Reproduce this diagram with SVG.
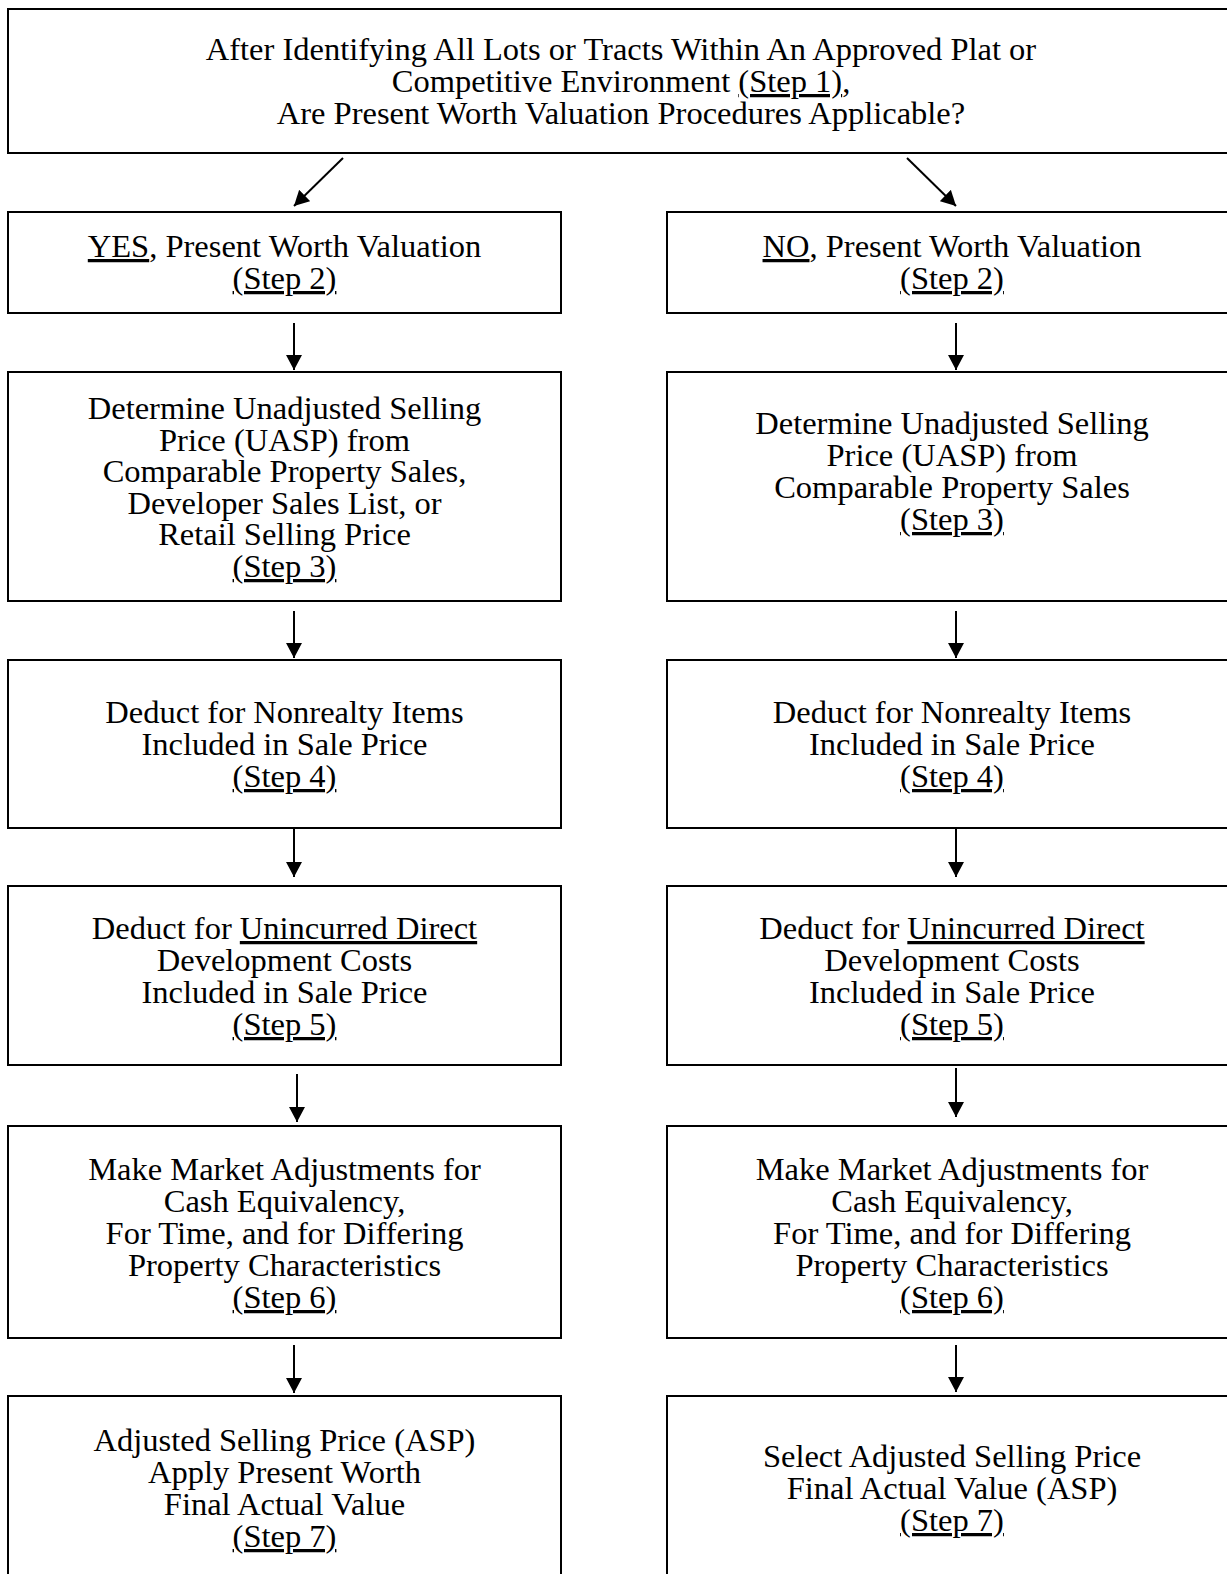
<svg xmlns="http://www.w3.org/2000/svg" width="1227" height="1574" viewBox="0 0 1227 1574">
<style>
.box{fill:#fff;stroke:#000;stroke-width:2}
.t{font-family:"Liberation Serif","Times New Roman",serif;font-size:32.5px;fill:#000;text-anchor:middle}
.u{text-decoration:underline;text-decoration-skip-ink:none}
.c{stroke:#000;stroke-width:2;fill:none;marker-end:url(#ah)}
</style>
<defs>
<marker id="ah" markerWidth="16" markerHeight="16" refX="15" refY="8" orient="auto" markerUnits="userSpaceOnUse">
<path d="M0,0 L15,8 L0,16 Z" fill="#000"/>
</marker>
</defs>
<rect width="1227" height="1574" fill="#fff"/>
<g id="n0">
<rect class="box" x="8" y="9" width="1230" height="144"/>
<text class="t" x="621" y="60">After Identifying All Lots or Tracts Within An Approved Plat or</text>
<text class="t" x="621" y="92">Competitive Environment <tspan class="u">(Step 1)</tspan>,</text>
<text class="t" x="621" y="124">Are Present Worth Valuation Procedures Applicable?</text>
</g>
<g id="yes2">
<rect class="box" x="8" y="212" width="553" height="101"/>
<text class="t" x="284.5" y="257"><tspan class="u">YES</tspan>, Present Worth Valuation</text>
<text class="t" x="284.5" y="289"><tspan class="u">(Step 2)</tspan></text>
</g>
<g id="no2">
<rect class="box" x="667" y="212" width="570" height="101"/>
<text class="t" x="952" y="257"><tspan class="u">NO</tspan>, Present Worth Valuation</text>
<text class="t" x="952" y="289"><tspan class="u">(Step 2)</tspan></text>
</g>
<g id="yes3">
<rect class="box" x="8" y="372" width="553" height="229"/>
<text class="t" x="284.5" y="419">Determine Unadjusted Selling</text>
<text class="t" x="284.5" y="451">Price (UASP) from</text>
<text class="t" x="284.5" y="482">Comparable Property Sales,</text>
<text class="t" x="284.5" y="514">Developer Sales List, or</text>
<text class="t" x="284.5" y="545">Retail Selling Price</text>
<text class="t" x="284.5" y="577"><tspan class="u">(Step 3)</tspan></text>
</g>
<g id="no3">
<rect class="box" x="667" y="372" width="570" height="229"/>
<text class="t" x="952" y="434">Determine Unadjusted Selling</text>
<text class="t" x="952" y="466">Price (UASP) from</text>
<text class="t" x="952" y="498">Comparable Property Sales</text>
<text class="t" x="952" y="530"><tspan class="u">(Step 3)</tspan></text>
</g>
<g id="yes4">
<rect class="box" x="8" y="660" width="553" height="168"/>
<text class="t" x="284.5" y="723">Deduct for Nonrealty Items</text>
<text class="t" x="284.5" y="755">Included in Sale Price</text>
<text class="t" x="284.5" y="787"><tspan class="u">(Step 4)</tspan></text>
</g>
<g id="no4">
<rect class="box" x="667" y="660" width="570" height="168"/>
<text class="t" x="952" y="723">Deduct for Nonrealty Items</text>
<text class="t" x="952" y="755">Included in Sale Price</text>
<text class="t" x="952" y="787"><tspan class="u">(Step 4)</tspan></text>
</g>
<g id="yes5">
<rect class="box" x="8" y="886" width="553" height="179"/>
<text class="t" x="284.5" y="939">Deduct for <tspan class="u">Unincurred Direct</tspan></text>
<text class="t" x="284.5" y="971">Development Costs</text>
<text class="t" x="284.5" y="1003">Included in Sale Price</text>
<text class="t" x="284.5" y="1035"><tspan class="u">(Step 5)</tspan></text>
</g>
<g id="no5">
<rect class="box" x="667" y="886" width="570" height="179"/>
<text class="t" x="952" y="939">Deduct for <tspan class="u">Unincurred Direct</tspan></text>
<text class="t" x="952" y="971">Development Costs</text>
<text class="t" x="952" y="1003">Included in Sale Price</text>
<text class="t" x="952" y="1035"><tspan class="u">(Step 5)</tspan></text>
</g>
<g id="yes6">
<rect class="box" x="8" y="1126" width="553" height="212"/>
<text class="t" x="284.5" y="1180">Make Market Adjustments for</text>
<text class="t" x="284.5" y="1212">Cash Equivalency,</text>
<text class="t" x="284.5" y="1244">For Time, and for Differing</text>
<text class="t" x="284.5" y="1276">Property Characteristics</text>
<text class="t" x="284.5" y="1308"><tspan class="u">(Step 6)</tspan></text>
</g>
<g id="no6">
<rect class="box" x="667" y="1126" width="570" height="212"/>
<text class="t" x="952" y="1180">Make Market Adjustments for</text>
<text class="t" x="952" y="1212">Cash Equivalency,</text>
<text class="t" x="952" y="1244">For Time, and for Differing</text>
<text class="t" x="952" y="1276">Property Characteristics</text>
<text class="t" x="952" y="1308"><tspan class="u">(Step 6)</tspan></text>
</g>
<g id="yes7">
<rect class="box" x="8" y="1396" width="553" height="200"/>
<text class="t" x="284.5" y="1451">Adjusted Selling Price (ASP)</text>
<text class="t" x="284.5" y="1483">Apply Present Worth</text>
<text class="t" x="284.5" y="1515">Final Actual Value</text>
<text class="t" x="284.5" y="1547"><tspan class="u">(Step 7)</tspan></text>
</g>
<g id="no7">
<rect class="box" x="667" y="1396" width="570" height="200"/>
<text class="t" x="952" y="1467">Select Adjusted Selling Price</text>
<text class="t" x="952" y="1499">Final Actual Value (ASP)</text>
<text class="t" x="952" y="1531"><tspan class="u">(Step 7)</tspan></text>
</g>
<g id="connectors">
<line class="c" x1="343" y1="158" x2="294" y2="206"/>
<line class="c" x1="907" y1="158" x2="956" y2="206"/>
<line class="c" x1="294" y1="323" x2="294" y2="370"/>
<line class="c" x1="956" y1="323" x2="956" y2="370"/>
<line class="c" x1="294" y1="611" x2="294" y2="658"/>
<line class="c" x1="956" y1="611" x2="956" y2="658"/>
<line class="c" x1="294" y1="829" x2="294" y2="877"/>
<line class="c" x1="956" y1="829" x2="956" y2="877"/>
<line class="c" x1="297" y1="1074" x2="297" y2="1122"/>
<line class="c" x1="956" y1="1068" x2="956" y2="1117"/>
<line class="c" x1="294" y1="1345" x2="294" y2="1393"/>
<line class="c" x1="956" y1="1345" x2="956" y2="1392"/>
</g>
</svg>
